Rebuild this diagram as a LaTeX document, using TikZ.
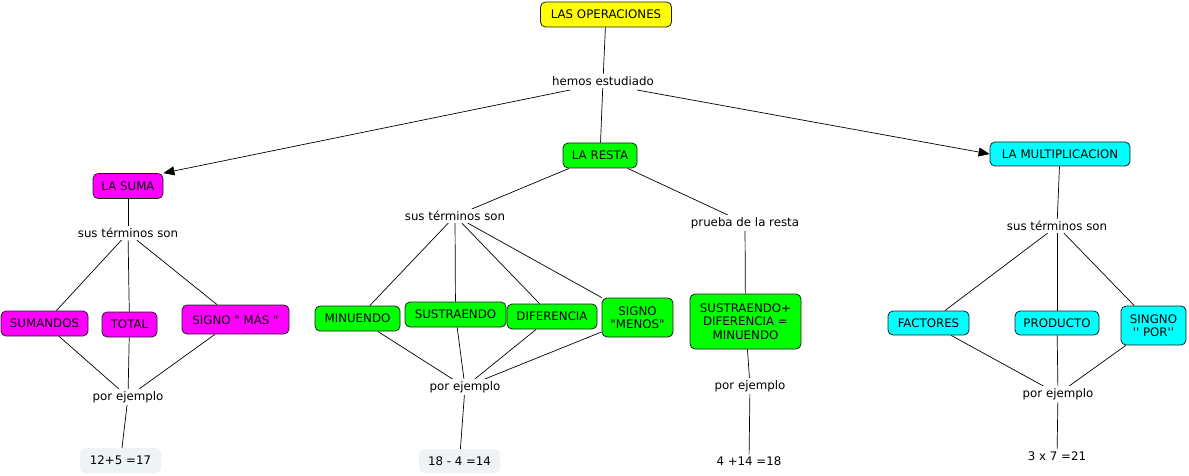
\documentclass[tikz,border=0pt]{standalone}
\usepackage{fontspec}
\setmainfont{DejaVu Sans}[Ligatures=TeXOff]
\usetikzlibrary{arrows.meta,backgrounds}
\definecolor{yel}{RGB}{255,255,0}
\definecolor{mag}{RGB}{255,0,255}
\definecolor{grn}{RGB}{0,255,0}
\definecolor{cyn}{RGB}{0,255,255}
\definecolor{ex}{RGB}{238,243,245}
\definecolor{edge}{RGB}{30,30,30}
\tikzset{
  concept/.style={draw=edge, line width=0.8pt, rounded corners=5pt, align=center, inner sep=1pt, font=\fontsize{11.8}{13.5}\selectfont},
  lbl/.style={inner sep=2pt, font=\fontsize{11.8}{13.5}\selectfont, fill=white},
  exbox/.style={fill=ex, rounded corners=5pt, inner sep=1pt, font=\fontsize{11.8}{13.5}\selectfont},
  link/.style={line width=0.7pt, draw=black},
  arr/.style={link, -{Triangle[length=11pt,width=9pt]}}
}
\begin{document}
\begin{tikzpicture}[x=1pt,y=-1pt]
\useasboundingbox (0,0) rectangle (1189,476);
% top
\node[concept, fill=yel, minimum width=131, minimum height=25] (ops) at (606,14.5) {LAS OPERACIONES};
\node[lbl] (hemos) at (603,81) {hemos estudiado};
\node[concept, fill=mag, minimum width=70, minimum height=25] (suma) at (128,186) {LA SUMA};
\node[concept, fill=grn, minimum width=74, minimum height=25] (resta) at (600,155.5) {LA RESTA};
\node[concept, fill=cyn, minimum width=140, minimum height=24] (mult) at (1060,154) {LA MULTIPLICACION};
% suma
\node[lbl] (sts) at (128,233) {sus términos son};
\node[concept, fill=mag, minimum width=87, minimum height=25] (sumandos) at (44.5,323.5) {SUMANDOS};
\node[concept, fill=mag, minimum width=55, minimum height=25] (total) at (129.5,324.5) {TOTAL};
\node[concept, fill=mag, minimum width=107, minimum height=29] (mas) at (235.5,319.5) {SIGNO " MÁS "};
\node[lbl] (pes) at (128,397) {por ejemplo};
\node[exbox, minimum width=81, minimum height=25] (exs) at (120.5,460.5) {12+5 =17};
% resta
\node[lbl] (str) at (455,216) {sus términos son};
\node[concept, fill=grn, minimum width=85, minimum height=25] (minuendo) at (357.5,318.5) {MINUENDO};
\node[concept, fill=grn, minimum width=101, minimum height=25] (sustraendo) at (455.5,314.5) {SUSTRAENDO};
\node[concept, fill=grn, minimum width=90, minimum height=25] (diferencia) at (552,316.5) {DIFERENCIA};
\node[concept, fill=grn, minimum width=71, minimum height=39] (menos) at (637.5,317.5) {SIGNO\\"MENOS"};
\node[lbl] (per) at (465,387) {por ejemplo};
\node[exbox, minimum width=81, minimum height=24] (exr) at (459.5,461) {18 - 4 =14};
% prueba
\node[lbl] (prueba) at (745,223) {prueba de la resta};
\node[concept, fill=grn, minimum width=111, minimum height=55] (sdm) at (745.5,321.5) {SUSTRAENDO+\\DIFERENCIA =\\MINUENDO};
\node[lbl] (pep) at (750,386) {por ejemplo};
\node[lbl] (exp) at (749,461) {4 +14 =18};
% mult
\node[lbl] (stm) at (1057,226) {sus términos son};
\node[concept, fill=cyn, minimum width=81, minimum height=24] (factores) at (928.5,323) {FACTORES};
\node[concept, fill=cyn, minimum width=84, minimum height=24] (producto) at (1057,323) {PRODUCTO};
\node[concept, fill=cyn, minimum width=65, minimum height=39] (por) at (1153.5,325.5) {SINGNO\\'' POR''};
\node[lbl] (pem) at (1058,394) {por ejemplo};
\node[lbl] (exm) at (1057,456) {3 x 7 =21};
% connectors
\begin{scope}[on background layer]
\draw[link] (ops) -- (hemos);
\coordinate (h1) at (570,90);
\coordinate (h2) at (637,90);
\draw[arr] (h1) -- (suma.north east);
\draw[link] (hemos) -- (resta);
\draw[arr] (h2) -- (mult.west);
\draw[link] (suma) -- (sts);
\draw[link] (sts) -- (sumandos);
\draw[link] (sts) -- (total);
\draw[link] (sts) -- (mas);
\draw[link] (sumandos) -- (pes);
\draw[link] (total) -- (pes);
\draw[link] (mas) -- (pes);
\draw[link] (pes) -- (exs);
\draw[link] (resta) -- (str);
\draw[link] (resta) -- (prueba);
\draw[link] (str) -- (minuendo);
\draw[link] (str) -- (sustraendo);
\draw[link] (str) -- (diferencia);
\draw[link] (str) -- (menos);
\draw[link] (minuendo) -- (per);
\draw[link] (sustraendo) -- (per);
\draw[link] (diferencia) -- (per);
\draw[link] (menos) -- (per);
\draw[link] (per) -- (exr);
\draw[link] (prueba) -- (sdm);
\draw[link] (sdm) -- (pep);
\draw[link] (pep) -- (exp);
\draw[link] (mult) -- (stm);
\draw[link] (stm) -- (factores);
\draw[link] (stm) -- (producto);
\draw[link] (stm) -- (por);
\draw[link] (factores) -- (pem);
\draw[link] (producto) -- (pem);
\draw[link] (por) -- (pem);
\draw[link] (pem) -- (exm);
\end{scope}
\end{tikzpicture}
\end{document}
